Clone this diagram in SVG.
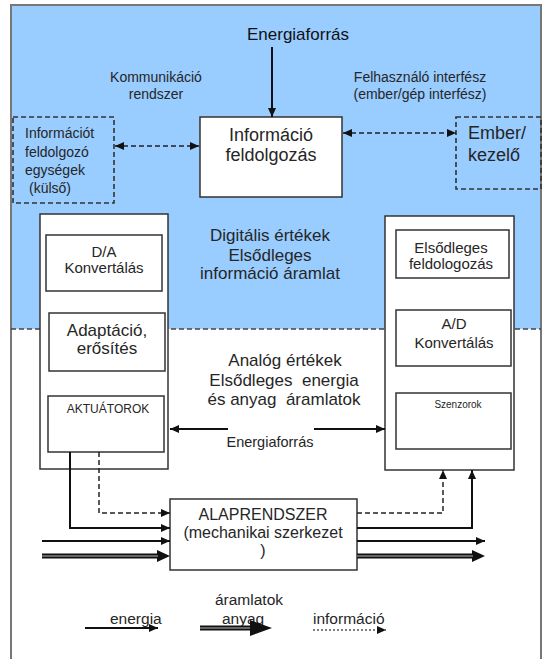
<svg xmlns="http://www.w3.org/2000/svg" width="548" height="659" viewBox="0 0 548 659">
<defs>
<style>
text{font-family:"Liberation Sans",Arial,sans-serif;fill:#262626}
.box{fill:#fff;stroke:#333;stroke-width:1.5}
.dbox{fill:none;stroke:#333;stroke-width:1.6;stroke-dasharray:5,3}
.ln{fill:none;stroke:#111;stroke-width:2}
.dl{fill:none;stroke:#222;stroke-width:1.5;stroke-dasharray:5,3}
.m{text-anchor:middle}
</style>
<marker id="a" markerUnits="userSpaceOnUse" markerWidth="9" markerHeight="8" refX="9" refY="4" orient="auto-start-reverse">
<path d="M0,0 L9,4 L0,8 z" fill="#111"/>
</marker>
<marker id="b" markerUnits="userSpaceOnUse" markerWidth="13" markerHeight="12" refX="1" refY="6" orient="auto">
<path d="M0,0 L13,6 L0,12 z" fill="#111"/>
</marker>
</defs>

<g id="background">
<rect x="11" y="5" width="530" height="324" fill="#99CCFF"/>
<path d="M11,659 V5 H541 V659" fill="none" stroke="#777" stroke-width="2"/>
<line x1="11" y1="329" x2="541" y2="329" stroke="#444" stroke-width="1.3" stroke-dasharray="5,3"/>
</g>

<g id="labels">
<text x="298" y="40" class="m" font-size="17" style="fill:#111">Energiaforrás</text>
<text x="156" y="82" class="m" font-size="14">Kommunikáció</text>
<text x="156" y="99" class="m" font-size="14">rendszer</text>
<text x="420" y="82" class="m" font-size="14">Felhasználó interfész</text>
<text x="420" y="99" class="m" font-size="14">(ember/gép interfész)</text>
<text x="270" y="241" class="m" font-size="17">Digitális értékek</text>
<text x="270" y="261" class="m" font-size="17">Elsődleges</text>
<text x="270" y="279" class="m" font-size="17">információ áramlat</text>
<text x="285" y="366" class="m" font-size="17">Analóg értékek</text>
<text x="284" y="386" class="m" font-size="17" xml:space="preserve">Elsődleges  energia</text>
<text x="284" y="405" class="m" font-size="17" xml:space="preserve">és anyag  áramlatok</text>
<text x="270" y="447" class="m" font-size="14.5">Energiaforrás</text>
</g>

<g id="info-kulso">
<rect x="13" y="117" width="101" height="86" class="dbox"/>
<text x="25" y="138" font-size="14">Információt</text>
<text x="25" y="157" font-size="14">feldolgozó</text>
<text x="25" y="175" font-size="14">egységek</text>
<text x="29" y="193" font-size="14">(külső)</text>
</g>

<g id="info-feldolgozas">
<rect x="200" y="117" width="142" height="80" class="box"/>
<text x="271" y="141" class="m" font-size="18">Információ</text>
<text x="271" y="161" class="m" font-size="18">feldolgozás</text>
</g>

<g id="ember">
<rect x="456" y="117" width="85" height="72" class="dbox"/>
<text x="468" y="139" font-size="18">Ember/</text>
<text x="468" y="161" font-size="18">kezelő</text>
</g>

<g id="left-column">
<rect x="40" y="214" width="128" height="255" class="box"/>
</g>
<g id="da">
<rect x="46" y="235" width="116" height="56" class="box"/>
<text x="104" y="257" class="m" font-size="15">D/A</text>
<text x="104" y="273" class="m" font-size="15">Konvertálás</text>
</g>
<g id="adaptacio">
<rect x="49" y="313" width="116" height="58" class="box"/>
<text x="107" y="336" class="m" font-size="17">Adaptáció,</text>
<text x="107" y="354" class="m" font-size="17">erősítés</text>
</g>
<g id="aktuatorok">
<rect x="48" y="396" width="116" height="56" class="box"/>
<text x="108" y="413" class="m" font-size="12">AKTUÁTOROK</text>
</g>

<g id="right-column">
<rect x="385" y="216" width="129" height="254" class="box"/>
</g>
<g id="elsodleges">
<rect x="396" y="230" width="113" height="48" class="box"/>
<text x="451" y="253" class="m" font-size="15">Elsődleges</text>
<text x="451" y="269" class="m" font-size="15">feldologozás</text>
</g>
<g id="ad">
<rect x="396" y="310" width="115" height="56" class="box"/>
<text x="454" y="329" class="m" font-size="15">A/D</text>
<text x="454" y="348" class="m" font-size="15">Konvertálás</text>
</g>
<g id="szenzorok">
<rect x="396" y="393" width="115" height="56" class="box"/>
<text x="458" y="408" class="m" font-size="10">Szenzorok</text>
</g>

<g id="alaprendszer">
<rect x="170" y="499" width="187" height="71" class="box"/>
<text x="263" y="520" class="m" font-size="16">ALAPRENDSZER</text>
<text x="263" y="538" class="m" font-size="16">(mechanikai szerkezet</text>
<text x="263" y="556" class="m" font-size="16">)</text>
</g>

<g id="connectors">
<line x1="272" y1="47" x2="272" y2="117" class="ln" marker-end="url(#a)"/>
<line x1="115" y1="146" x2="199" y2="146" class="dl" marker-start="url(#a)" marker-end="url(#a)"/>
<line x1="343" y1="133" x2="456" y2="133" class="dl" marker-start="url(#a)" marker-end="url(#a)"/>
<line x1="228" y1="429" x2="170" y2="429" class="ln" marker-end="url(#a)"/>
<line x1="314" y1="429" x2="385" y2="429" class="ln" marker-end="url(#a)"/>
<polyline points="70,452 70,528 170,528" class="ln" marker-end="url(#a)"/>
<polyline points="99,452 99,513 170,513" class="dl" marker-end="url(#a)"/>
<line x1="42" y1="541" x2="170" y2="541" class="ln" marker-end="url(#a)"/>
<line x1="42" y1="556" x2="158" y2="556" stroke="#111" stroke-width="5" marker-end="url(#b)"/>
<line x1="42" y1="556" x2="158" y2="556" stroke="#bbb" stroke-width="1.2"/>
<polyline points="357,513 443,513 443,470" class="dl" marker-end="url(#a)"/>
<polyline points="357,528 472,528 472,470" class="ln" marker-end="url(#a)"/>
<line x1="357" y1="541" x2="485" y2="541" class="ln" marker-end="url(#a)"/>
<line x1="357" y1="556" x2="473" y2="556" stroke="#111" stroke-width="5" marker-end="url(#b)"/>
<line x1="357" y1="556" x2="473" y2="556" stroke="#bbb" stroke-width="1.2"/>
</g>

<g id="legend">
<text x="249" y="605" class="m" font-size="15.5">áramlatok</text>
<text x="110" y="624" font-size="15.5">energia</text>
<line x1="85" y1="628" x2="158" y2="628" class="ln" marker-end="url(#a)"/>
<text x="222" y="624" font-size="15.5">anyag</text>
<line x1="200" y1="628" x2="251" y2="628" stroke="#111" stroke-width="5"/>
<line x1="200" y1="628" x2="251" y2="628" stroke="#bbb" stroke-width="1"/>
<path d="M250,620 L272,628 L250,636 z" fill="#111"/>
<text x="313" y="624" font-size="15.5">információ</text>
<line x1="313" y1="630" x2="386" y2="630" stroke="#555" stroke-width="1.3" stroke-dasharray="2,2" marker-end="url(#a)"/>
</g>
</svg>
